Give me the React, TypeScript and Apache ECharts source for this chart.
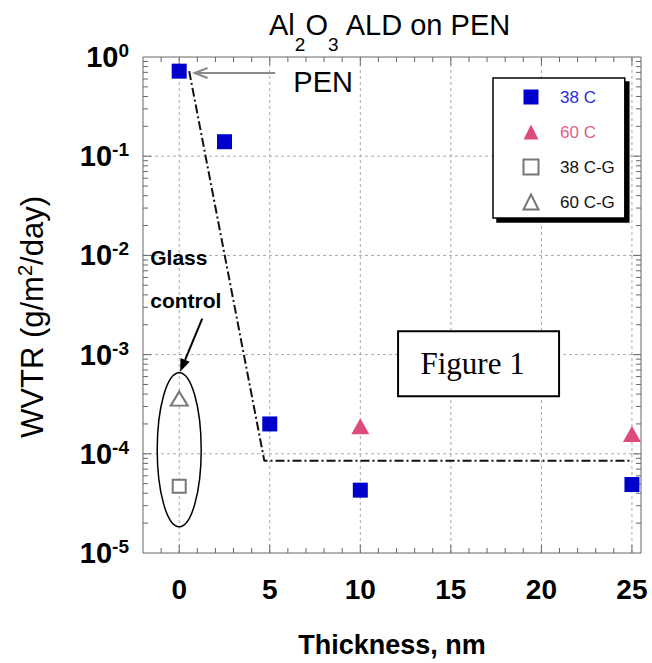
import React, { useEffect, useRef } from 'react';
import * as echarts from 'echarts';

// Axis extents and ticks
const xMin = -2;
const xMax = 25.5;
const yMin = 1e-5;
const yMax = 1;
const xLabelValues = [0, 5, 10, 15, 20, 25];
const xTickValues = [-1, 0, 1, 2, 3, 4, 5, 6, 7, 8, 9, 10, 11, 12, 13, 14, 15, 16, 17, 18, 19, 20, 21, 22, 23, 24, 25];
const yDecadeExponents = [-5, -4, -3, -2, -1];
const yMinorMultipliers = [1, 2, 3, 4, 5, 6, 7, 8, 9];

// Data series (thickness nm, WVTR g/m2/day)
const thick38C = [0, 2.5, 5, 10, 25];
const wvtr38C = [0.72, 0.14, 2.0e-4, 4.3e-5, 4.9e-5];
const thick60C = [10, 25];
const wvtr60C = [1.9e-4, 1.58e-4];
const thick38CG = [0];
const wvtr38CG = [4.7e-5];
const thick60CG = [0];
const wvtr60CG = [3.6e-4];
const fitThick = [0.55, 4.7, 25];
const fitWvtr = [0.72, 8.5e-5, 8.5e-5];

// Annotation anchors (data space)
const penArrowTip = [0.85, 0.69];
const penArrowTail = [5.3, 0.69];
const penLabelAt = [6.3, 0.56];
const glassLabelAt = [-1.6, 9.6e-3];
const controlLabelAt = [-1.6, 3.47e-3];
const glassArrowFrom = [1.27, 2.3e-3];
const glassArrowTo = [0.05, 6.7e-4];
const glassEllipseCenter = [0, 1.1e-4];
const figureBoxCenter = [16.53, 8.1e-4];

const legendNames = ['38 C', '60 C', '38 C-G', '60 C-G'];
const legendColors = ['#2b2be0', '#e0608a', '#111111', '#111111'];

const FONT = 'Liberation Sans, Arial, Helvetica, sans-serif';

const zip = (xs: number[], ys: number[]) => xs.map((x, i) => [x, ys[i]]);

export default function App() {
  const ref = useRef<HTMLDivElement>(null);

  useEffect(() => {
    if (!ref.current) return;
    const chart = echarts.init(ref.current, undefined, { renderer: 'svg' });

    const frameRender = (params: any, api: any) => {
      const children: any[] = [];
      const gridStyle = { stroke: '#a8a8a8', lineWidth: 1, lineDash: [3, 3] };
      const tickStyle = { stroke: '#666', lineWidth: 1 };
      const line = (a: number[], b: number[], style: any) =>
        children.push({ type: 'line', shape: { x1: a[0], y1: a[1], x2: b[0], y2: b[1] }, style });
      xLabelValues.forEach((v) => line(api.coord([v, yMin]), api.coord([v, yMax]), gridStyle));
      yDecadeExponents.slice(1).forEach((e) =>
        line(api.coord([xMin, Math.pow(10, e)]), api.coord([xMax, Math.pow(10, e)]), gridStyle)
      );
      xTickValues.forEach((v) => {
        const len = v % 5 === 0 ? 8 : 5;
        const b = api.coord([v, yMin]);
        const t = api.coord([v, yMax]);
        line(b, [b[0], b[1] - len], tickStyle);
        line(t, [t[0], t[1] + len], tickStyle);
      });
      yDecadeExponents.forEach((e) => {
        yMinorMultipliers.forEach((m) => {
          const v = m * Math.pow(10, e);
          if (m === 1 && e === -5) return;
          const len = m === 1 ? 8 : 5;
          const l = api.coord([xMin, v]);
          const r = api.coord([xMax, v]);
          line(l, [l[0] + len, l[1]], tickStyle);
          line(r, [r[0] - len, r[1]], tickStyle);
        });
      });
      return { type: 'group', children };
    };

    chart.setOption({
      animation: false,
      textStyle: { fontFamily: FONT },
      grid: {
        left: 143,
        top: 57,
        right: 11,
        bottom: 110,
        show: true,
        borderColor: '#666',
        borderWidth: 1,
        backgroundColor: 'transparent',
      },
      legend: {
        orient: 'vertical',
        left: 493,
        top: 78,
        padding: [10.5, 10, 7.5, 29.5],
        itemWidth: 15,
        itemHeight: 15,
        itemGap: 18,
        backgroundColor: '#fff',
        borderColor: '#000',
        borderWidth: 1.5,
        borderRadius: 0,
        shadowColor: '#000',
        shadowBlur: 0,
        shadowOffsetX: 4,
        shadowOffsetY: 4,
        selectedMode: false,
        formatter: (name: string) => `{t|${name}}`,
        textStyle: {
          fontSize: 17,
          fontFamily: FONT,
          rich: { t: { fontSize: 17, fontFamily: FONT, lineHeight: 15, padding: [0, 0, 0, 16.5] } },
        },
        data: legendNames.map((n, i) => ({ name: n, textStyle: { color: legendColors[i] } })),
      },
      xAxis: {
        type: 'value',
        min: xMin,
        max: xMax,
        axisLine: { show: false },
        axisTick: { show: false },
        splitLine: { show: false },
        axisLabel: {
          customValues: xLabelValues,
          margin: 22,
          fontSize: 28,
          fontWeight: 'bold',
          color: '#000',
          fontFamily: FONT,
        },
        name: 'Thickness, nm',
        nameLocation: 'middle',
        nameGap: 78,
        nameTextStyle: { fontSize: 27, fontWeight: 'bold', color: '#000', fontFamily: FONT },
      },
      yAxis: {
        type: 'log',
        logBase: 10,
        min: yMin,
        max: yMax,
        axisLine: { show: false },
        axisTick: { show: false },
        splitLine: { show: false },
        axisLabel: {
          margin: 14,
          color: '#000',
          formatter: (v: number) => `{b|10}{s|${Math.round(Math.log10(v))}}`,
          rich: {
            b: { fontSize: 29, fontWeight: 'bold', lineHeight: 32, fontFamily: FONT, color: '#000' },
            s: { fontSize: 19, fontWeight: 'bold', lineHeight: 8, verticalAlign: 'top', fontFamily: FONT, color: '#000' },
          },
        },
      },
      series: [
        {
          type: 'custom',
          name: 'frame',
          silent: true,
          z: 1,
          renderItem: frameRender,
          data: [[0, 1e-2]],
        },
        {
          type: 'line',
          name: 'fit',
          data: zip(fitThick, fitWvtr),
          symbol: 'none',
          z: 2,
          lineStyle: { color: '#111', width: 2, type: [9, 3, 2, 3] },
        },
        {
          type: 'scatter',
          name: '38 C',
          data: zip(thick38C, wvtr38C),
          symbol: 'rect',
          symbolSize: 15,
          z: 4,
          itemStyle: { color: '#0000cc', opacity: 1 },
        },
        {
          type: 'scatter',
          name: '60 C',
          data: zip(thick60C, wvtr60C),
          symbol: 'triangle',
          symbolSize: [18, 16],
          z: 4,
          itemStyle: { color: '#dd4b7e', opacity: 1 },
        },
        {
          type: 'scatter',
          name: '38 C-G',
          data: zip(thick38CG, wvtr38CG),
          symbol: 'emptyRect',
          symbolSize: 13,
          z: 4,
          itemStyle: { color: '#777', borderWidth: 1.5, opacity: 1 },
        },
        {
          type: 'scatter',
          name: '60 C-G',
          data: zip(thick60CG, wvtr60CG),
          symbol: 'emptyTriangle',
          symbolSize: [17, 14],
          z: 4,
          itemStyle: { color: '#777', borderWidth: 1.5, opacity: 1 },
        },
      ],
    });

    const p = (d: number[]) => chart.convertToPixel({ gridIndex: 0 }, d) as number[];
    const tip = p(penArrowTip);
    const tail = p(penArrowTail);
    const gFrom = p(glassArrowFrom);
    const gTo = p(glassArrowTo);
    const dx = gTo[0] - gFrom[0];
    const dy = gTo[1] - gFrom[1];
    const dl = Math.sqrt(dx * dx + dy * dy);
    const ux = dx / dl;
    const uy = dy / dl;
    const headLen = 13;
    const headW = 5;
    const base = [gTo[0] - ux * headLen, gTo[1] - uy * headLen];
    const ec = p(glassEllipseCenter);
    const fb = p(figureBoxCenter);
    const penL = p(penLabelAt);
    const glassL = p(glassLabelAt);
    const ctrlL = p(controlLabelAt);

    chart.setOption({
      graphic: [
        {
          type: 'text',
          x: 390,
          y: 10,
          style: {
            text: '{n|Al}{sub|2}{n|O}{sub|3}{n| ALD on PEN}',
            align: 'center',
            verticalAlign: 'top',
            rich: {
              n: { fontSize: 29, lineHeight: 30, verticalAlign: 'top', fontFamily: FONT, fill: '#000' },
              sub: { fontSize: 19, lineHeight: 44, verticalAlign: 'bottom', fontFamily: FONT, fill: '#000' },
            },
          },
        },
        {
          type: 'text',
          x: 32,
          y: 317,
          rotation: Math.PI / 2,
          style: {
            text: '{n|WVTR (g/m}{s|2}{n|/day)}',
            align: 'center',
            verticalAlign: 'middle',
            rich: {
              n: { fontSize: 31, lineHeight: 34, fontFamily: FONT, fill: '#000' },
              s: { fontSize: 20, lineHeight: 8, verticalAlign: 'top', fontFamily: FONT, fill: '#000' },
            },
          },
        },
        {
          type: 'line',
          shape: { x1: tail[0], y1: tail[1], x2: tip[0], y2: tip[1] },
          style: { stroke: '#8a8a8a', lineWidth: 2 },
          z: 10,
        },
        {
          type: 'polyline',
          shape: { points: [[tip[0] + 13, tip[1] - 5], tip, [tip[0] + 13, tip[1] + 5]] },
          style: { stroke: '#8a8a8a', lineWidth: 2, fill: null },
          z: 10,
        },
        {
          type: 'text',
          x: penL[0],
          y: penL[1],
          style: { text: 'PEN', fontSize: 29, fontFamily: FONT, fill: '#000', verticalAlign: 'middle', align: 'left' },
          z: 10,
        },
        {
          type: 'text',
          x: glassL[0],
          y: glassL[1],
          style: { text: 'Glass', fontSize: 21, fontWeight: 'bold', fontFamily: FONT, fill: '#000', verticalAlign: 'middle', align: 'left' },
          z: 10,
        },
        {
          type: 'text',
          x: ctrlL[0],
          y: ctrlL[1],
          style: { text: 'control', fontSize: 21, fontWeight: 'bold', fontFamily: FONT, fill: '#000', verticalAlign: 'middle', align: 'left' },
          z: 10,
        },
        {
          type: 'line',
          shape: { x1: gFrom[0], y1: gFrom[1], x2: base[0], y2: base[1] },
          style: { stroke: '#000', lineWidth: 2 },
          z: 10,
        },
        {
          type: 'polygon',
          shape: {
            points: [
              gTo,
              [base[0] - uy * headW, base[1] + ux * headW],
              [base[0] + uy * headW, base[1] - ux * headW],
            ],
          },
          style: { fill: '#000' },
          z: 10,
        },
        {
          type: 'ellipse',
          shape: { cx: ec[0], cy: ec[1], rx: 22, ry: 77 },
          style: { stroke: '#000', lineWidth: 1.5, fill: null },
          z: 10,
        },
        {
          type: 'rect',
          shape: { x: fb[0] - 80.5, y: fb[1] - 32.5, width: 161, height: 65 },
          style: { stroke: '#000', lineWidth: 2, fill: '#fff' },
          z: 10,
        },
        {
          type: 'text',
          x: fb[0] - 6,
          y: fb[1],
          style: {
            text: 'Figure 1',
            fontSize: 31,
            fontFamily: 'Liberation Serif, Times New Roman, serif',
            fill: '#000',
            align: 'center',
            verticalAlign: 'middle',
          },
          z: 11,
        },
      ],
    });

    return () => chart.dispose();
  }, []);

  return <div ref={ref} style={{ position: 'absolute', left: 0, top: 0, width: 652, height: 663 }} />;
}
